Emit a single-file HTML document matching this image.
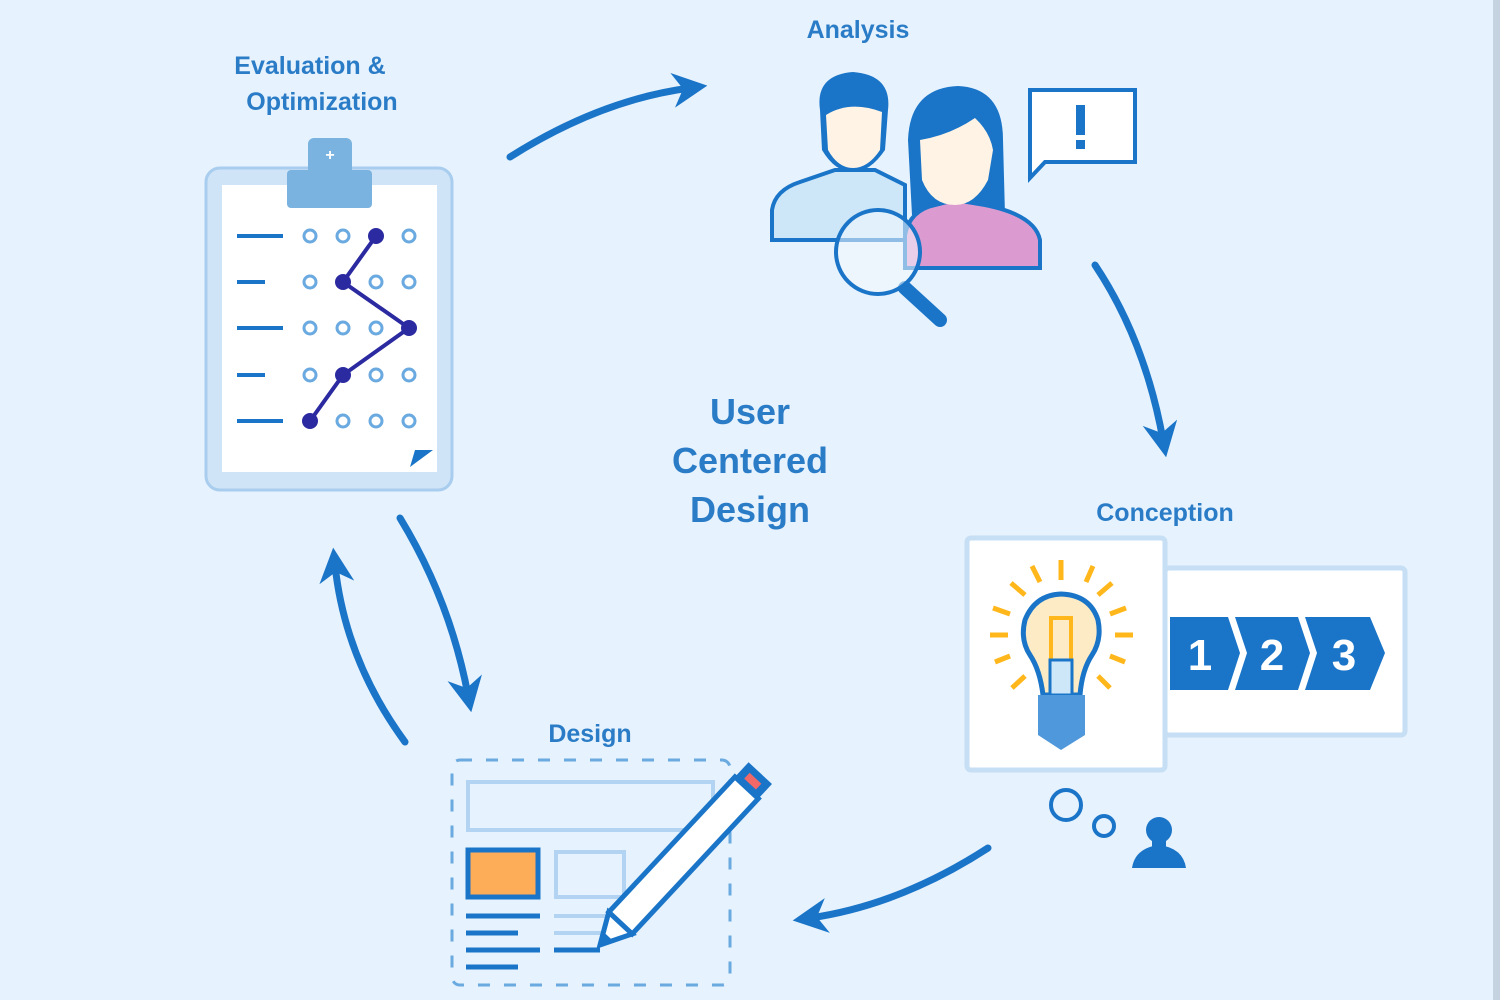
<!DOCTYPE html>
<html><head><meta charset="utf-8"><style>
html,body{margin:0;padding:0;background:#e6f2fd;}
svg{display:block}
text{font-family:"Liberation Sans",sans-serif;fill:#2a7cc7;font-weight:bold;text-anchor:middle}
</style></head><body>
<svg width="1500" height="1000" viewBox="0 0 1500 1000" xmlns="http://www.w3.org/2000/svg">
<rect width="1500" height="1000" fill="#e6f2fd"/>
<rect x="1493" y="0" width="7" height="1000" fill="#c5d3e0"/>
<defs>
<marker id="ah" viewBox="0 0 10 10" refX="5" refY="5" markerWidth="5" markerHeight="5" orient="auto">
<path d="M0,0 L10,5 L0,10 L3,5 Z" fill="#1a75c8"/></marker>
</defs>

<text x="858" y="38" font-size="25">Analysis</text>
<text x="310" y="74" font-size="25">Evaluation &amp;</text>
<text x="322" y="110" font-size="25">Optimization</text>
<text x="1165" y="521" font-size="25">Conception</text>
<text x="590" y="742" font-size="25">Design</text>
<text x="750" y="424" font-size="36">User</text>
<text x="750" y="473" font-size="36">Centered</text>
<text x="750" y="522" font-size="36">Design</text>

<g fill="none" stroke="#1a75c8" stroke-width="7" stroke-linecap="round">
<path d="M510,157 Q600,100 690,88" marker-end="url(#ah)"/>
<path d="M1095,265 Q1145,340 1163,440" marker-end="url(#ah)"/>
<path d="M988,848 Q900,905 810,918" marker-end="url(#ah)"/>
<path d="M400,518 Q450,600 468,695" marker-end="url(#ah)"/>
<path d="M405,742 Q345,660 335,565" marker-end="url(#ah)"/>
</g>

<rect x="206" y="168" width="246" height="322" rx="14" fill="#cfe4f7" stroke="#a9cdee" stroke-width="3"/>
<rect x="222" y="185" width="215" height="287" fill="#fff"/>
<rect x="308" y="138" width="44" height="40" rx="6" fill="#7ab3e0"/>
<rect x="287" y="170" width="85" height="38" rx="4" fill="#7ab3e0"/>
<text x="330" y="160" font-size="16" style="fill:#fff">+</text>
<g stroke="#1a75c8" stroke-width="4">
<line x1="237" y1="236" x2="283" y2="236"/><line x1="237" y1="282" x2="265" y2="282"/>
<line x1="237" y1="328" x2="283" y2="328"/><line x1="237" y1="375" x2="265" y2="375"/>
<line x1="237" y1="421" x2="283" y2="421"/></g>
<g fill="#fff" stroke="#6aaae0" stroke-width="3">
<circle cx="310" cy="236" r="6"/><circle cx="343" cy="236" r="6"/><circle cx="409" cy="236" r="6"/>
<circle cx="310" cy="282" r="6"/><circle cx="376" cy="282" r="6"/><circle cx="409" cy="282" r="6"/>
<circle cx="310" cy="328" r="6"/><circle cx="343" cy="328" r="6"/><circle cx="376" cy="328" r="6"/>
<circle cx="310" cy="375" r="6"/><circle cx="376" cy="375" r="6"/><circle cx="409" cy="375" r="6"/>
<circle cx="343" cy="421" r="6"/><circle cx="376" cy="421" r="6"/><circle cx="409" cy="421" r="6"/></g>
<polyline points="376,236 343,282 409,328 343,375 310,421" fill="none" stroke="#2b2aa0" stroke-width="4"/>
<g fill="#2b2aa0"><circle cx="376" cy="236" r="8"/><circle cx="343" cy="282" r="8"/><circle cx="409" cy="328" r="8"/><circle cx="343" cy="375" r="8"/><circle cx="310" cy="421" r="8"/></g>
<path d="M410,467 L433,450 L415,450 Z" fill="#1a75c8"/>

<!-- man -->
<path d="M772,240 L772,210 Q775,190 800,182 L835,170 L875,170 L905,185 L905,240 Z" fill="#cde6f8" stroke="#1a75c8" stroke-width="4"/>
<path d="M820,110 Q815,75 853,72 Q892,75 888,110 L885,150 Q870,172 853,172 Q835,172 822,150 Z" fill="#1a75c8"/>
<path d="M826,115 Q850,100 882,112 L880,150 Q868,168 853,168 Q838,168 828,150 Z" fill="#fff3e5"/>
<!-- woman -->
<path d="M912,215 L908,140 Q910,88 958,86 Q1003,88 1003,140 L1005,215 Z" fill="#1a75c8"/>
<path d="M905,268 L905,235 Q910,210 935,205 L955,200 L985,205 Q1035,215 1040,240 L1040,268 Z" fill="#dc9bd0" stroke="#1a75c8" stroke-width="4"/>
<path d="M920,140 Q950,135 975,118 Q990,132 993,150 L988,180 Q975,205 955,205 Q932,205 922,180 Z" fill="#fff3e5"/>
<line x1="905" y1="288" x2="940" y2="320" stroke="#1a75c8" stroke-width="14" stroke-linecap="round"/>
<circle cx="878" cy="252" r="42" fill="#f2f8fe" fill-opacity="0.55" stroke="#1a75c8" stroke-width="4"/>
<path d="M1030,90 L1135,90 L1135,162 L1045,162 L1030,178 Z" fill="#fff" stroke="#1a75c8" stroke-width="4"/>
<rect x="1076" y="105" width="9" height="30" fill="#1a75c8"/><rect x="1076" y="140" width="9" height="9" fill="#1a75c8"/>

<rect x="1165" y="568" width="240" height="167" rx="4" fill="#fff" stroke="#c6dff4" stroke-width="5"/>
<rect x="967" y="538" width="198" height="232" rx="4" fill="#fff" stroke="#c6dff4" stroke-width="5"/>
<g stroke="#ffb71b" stroke-width="5">
<line x1="1061" y1="560" x2="1061" y2="580"/><line x1="1032" y1="566" x2="1040" y2="582"/><line x1="1093" y1="566" x2="1086" y2="582"/>
<line x1="1011" y1="583" x2="1025" y2="595"/><line x1="1112" y1="583" x2="1098" y2="595"/>
<line x1="993" y1="608" x2="1010" y2="614"/><line x1="1126" y1="608" x2="1110" y2="614"/>
<line x1="990" y1="635" x2="1008" y2="635"/><line x1="1133" y1="635" x2="1115" y2="635"/>
<line x1="995" y1="662" x2="1010" y2="656"/><line x1="1125" y1="662" x2="1110" y2="656"/>
<line x1="1012" y1="688" x2="1025" y2="676"/><line x1="1110" y1="688" x2="1098" y2="676"/></g>
<path d="M1043,695 Q1040,670 1030,655 Q1020,640 1025,620 Q1035,595 1061,594 Q1090,595 1098,620 Q1102,640 1092,655 Q1082,670 1080,695 Z" fill="#fdebc5" stroke="#1a75c8" stroke-width="5"/>
<rect x="1051" y="618" width="20" height="50" fill="none" stroke="#ffb71b" stroke-width="4"/>
<rect x="1050" y="660" width="22" height="35" fill="#cde6f8" stroke="#1a75c8" stroke-width="3"/>
<path d="M1038,695 L1085,695 L1085,735 L1061,750 L1038,735 Z" fill="#4f98db"/>
<path d="M1170,617 L1228,617 L1240,653 L1228,690 L1170,690 Z" fill="#1a75c8"/>
<path d="M1235,617 L1298,617 L1310,653 L1298,690 L1235,690 L1247,653 Z" fill="#1a75c8"/>
<path d="M1305,617 L1370,617 L1385,653 L1370,690 L1305,690 L1317,653 Z" fill="#1a75c8"/>
<text x="1200" y="670" font-size="44" style="fill:#fff">1</text><text x="1272" y="670" font-size="44" style="fill:#fff">2</text><text x="1344" y="670" font-size="44" style="fill:#fff">3</text>
<circle cx="1066" cy="805" r="15" fill="none" stroke="#1a75c8" stroke-width="4"/>
<circle cx="1104" cy="826" r="10" fill="none" stroke="#1a75c8" stroke-width="4"/>
<circle cx="1159" cy="830" r="13" fill="#1a75c8"/><rect x="1152" y="820" width="14" height="30" fill="#1a75c8"/>
<path d="M1132,868 Q1135,848 1159,845 Q1183,848 1186,868 Z" fill="#1a75c8"/>

<rect x="452" y="760" width="278" height="225" rx="8" fill="none" stroke="#6aaae0" stroke-width="3" stroke-dasharray="12,14"/>
<rect x="468" y="782" width="245" height="48" fill="none" stroke="#b2d3f1" stroke-width="4"/>
<rect x="468" y="850" width="70" height="47" fill="#fdac58" stroke="#1a75c8" stroke-width="5"/>
<rect x="556" y="852" width="68" height="45" fill="none" stroke="#b2d3f1" stroke-width="4"/>
<g stroke="#1a75c8" stroke-width="5"><line x1="466" y1="916" x2="540" y2="916"/><line x1="466" y1="933" x2="518" y2="933"/><line x1="466" y1="950" x2="540" y2="950"/><line x1="466" y1="967" x2="518" y2="967"/><line x1="554" y1="950" x2="600" y2="950"/></g>
<g stroke="#b2d3f1" stroke-width="4"><line x1="554" y1="916" x2="610" y2="916"/><line x1="554" y1="933" x2="605" y2="933"/></g>
<g transform="translate(600,945) rotate(-47)">
<rect x="30" y="-16" width="185" height="32" fill="#fff" stroke="#1a75c8" stroke-width="5"/>
<rect x="215" y="-16" width="20" height="32" fill="#1a75c8"/><rect x="220" y="-8" width="8" height="16" fill="#f06868"/>
<path d="M30,-16 L0,0 L30,16 Z" fill="#fff" stroke="#1a75c8" stroke-width="5"/>
<path d="M12,-6 L0,0 L12,6 Z" fill="#1a75c8"/>
</g>
</svg>
</body></html>
